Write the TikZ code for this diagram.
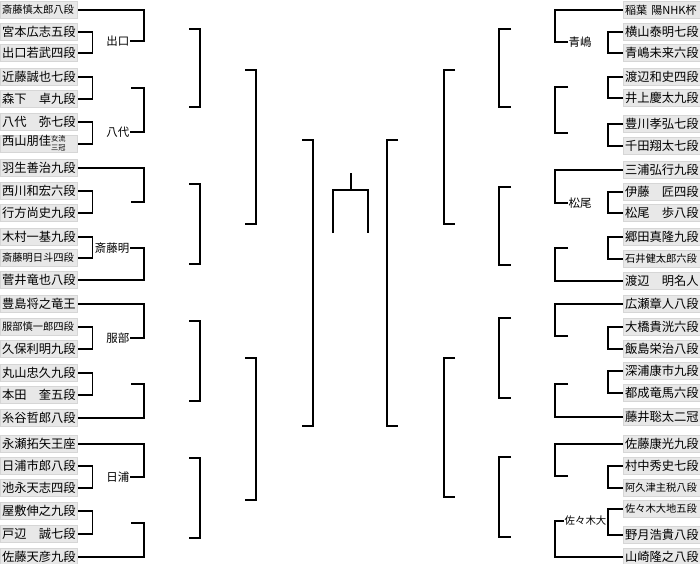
\documentclass[tikz,border=0pt]{standalone}
\usepackage{fontspec}
\setmainfont{Noto Sans CJK JP}
\newcommand{\sm}[1]{{\fontsize{7.7pt}{8pt}\selectfont #1}}
\newcommand{\joryu}{\raisebox{-0.3pt}{\fontsize{5.4pt}{5.4pt}\selectfont\begin{tabular}{@{}c@{}}女流\\[0.8pt]三冠\end{tabular}}}
\tikzset{
  namebox/.style={draw=black!16, fill=black!9, minimum height=12.6pt, text width=55.5pt,
    inner xsep=1.1pt, inner ysep=0pt, align=left, anchor=west, font=\fontsize{9.2pt}{10pt}\selectfont},
  tag/.style={inner sep=0pt, font=\fontsize{8.6pt}{9pt}\selectfont},
  bracket/.style={line width=1pt},
}
\begin{document}
\begin{tikzpicture}[x=0.75pt, y=-0.75pt, bracket]
            \useasboundingbox (0,0) rectangle (700,564);
            % Names, left block
            \foreach \i/\y/\n in {1/10/\sm{斎藤慎太郎八段}, 2/32/宮本広志五段, 3/53/出口若武四段,
                    4/77/近藤誠也七段, 5/99/森下　卓九段, 6/122/八代　弥七段, 7/144/西山朋佳\joryu,
                    8/168/羽生善治九段, 9/191/西川和宏六段, 10/213/行方尚史九段, 11/237/木村一基九段,
                    12/258/\sm{斎藤明日斗四段}, 13/280/菅井竜也八段, 14/304/豊島将之竜王,
                    15/327/\sm{服部慎一郎四段}, 16/349/久保利明九段, 17/373/丸山忠久九段,
                    18/395/本田　奎五段, 19/418/糸谷哲郎八段, 20/444/永瀬拓矢王座, 21/466/日浦市郎八段,
                    22/488/池永天志四段, 23/511/屋敷伸之九段, 24/534/戸辺　誠七段, 25/557/佐藤天彦九段} {
                    \node[namebox] (L\i) at (0,\y) {\n};
                }
            % Names, right block
            \foreach \i/\y/\n in {1/10/{\fontsize{8.3pt}{9pt}\selectfont 稲葉~陽NHK杯}, 2/32/横山泰明七段, 3/53/青嶋未来六段,
                    4/77/渡辺和史四段, 5/98/井上慶太九段, 6/124/豊川孝弘七段, 7/146/千田翔太七段,
                    8/170/三浦弘行九段, 9/192/伊藤　匠四段, 10/213/松尾　歩八段, 11/237/郷田真隆九段,
                    12/259/\sm{石井健太郎六段}, 13/281/渡辺　明名人, 14/304/広瀬章人八段,
                    15/327/大橋貴洸六段, 16/349/飯島栄治八段, 17/371/深浦康市九段, 18/393/都成竜馬六段,
                    19/417/藤井聡太二冠, 20/444/佐藤康光九段, 21/466/村中秀史七段,
                    22/488/\sm{阿久津主税八段}, 23/509/\sm{佐々木大地五段}, 24/535/野月浩貴八段,
                    25/557/山崎隆之八段} {
                    \node[namebox] (R\i) at (623,\y) {\n};
                }
            % First round pairs
            \foreach \a/\b in {2/3, 4/5, 6/7, 9/10, 11/12, 15/16, 17/18, 21/22, 23/24} {
                    \draw (L\a.east) -- ++(14,0) |- (L\b.east);
                    \draw (R\a.west) -- ++(-15,0) |- (R\b.west);
                }
            % Winners so far
            \node[tag, anchor=east] (deguchi) at (130,41) {出口};
            \node[tag, anchor=east] (yashiro) at (130,132) {八代};
            \node[tag, anchor=east] (saitoA) at (130,248) {斎藤明};
            \node[tag, anchor=east] (hattori) at (130,338) {服部};
            \node[tag, anchor=east] (hiura) at (130,477) {日浦};
            \node[tag, anchor=west] (aoshima) at (568,42) {青嶋};
            \node[tag, anchor=west] (matsuo) at (568,203) {松尾};
            \node[tag, anchor=east, font=\fontsize{7.8pt}{8pt}\selectfont] (sasaki) at (607,521) {佐々木大};
            % Open ends
            \coordinate (sB) at (131,88);
            \coordinate (sC) at (131,202);
            \coordinate (sD) at (131,384);
            \coordinate (sE) at (131,523);
            \coordinate (tB) at (568,87);
            \coordinate (tB2) at (568,133);
            \coordinate (tC) at (568,248);
            \coordinate (tD) at (568,336);
            \coordinate (tD2) at (568,384);
            \coordinate (tE) at (568,476);
            \coordinate (gF) at (555,521);
            % Second round, left
            \draw (deguchi.east) -- ++(14,0) |- (L1.east);
            \draw (yashiro.east) -- ++(14,0) |- (sB);
            \draw (sC) -- ++(13,0) |- (L8.east);
            \draw (saitoA.east) -- ++(14,0) |- (L13.east);
            \draw (hattori.east) -- ++(14,0) |- (L14.east);
            \draw (sD) -- ++(13,0) |- (L19.east);
            \draw (hiura.east) -- ++(14,0) |- (L20.east);
            \draw (sE) -- ++(13,0) |- (L25.east);
            % Second round, right
            \draw (aoshima.west) -- ++(-13,0) |- (R1.west);
            \draw (tB) -- ++(-13,0) |- (tB2);
            \draw (matsuo.west) -- ++(-13,0) |- (R8.west);
            \draw (tC) -- ++(-13,0) |- (R13.west);
            \draw (tD) -- ++(-13,0) |- (R14.west);
            \draw (tD2) -- ++(-13,0) |- (R19.west);
            \draw (tE) -- ++(-13,0) |- (R20.west);
            \draw (sasaki.west) -- (gF) |- (R25.west);
            % Later rounds
            \foreach \xa/\xb/\ya/\yb in {189/200/29/107, 189/200/184/264, 189/200/321/401, 189/200/458/538,
                    245/256/70/224, 245/256/358/500, 302/313/140/426, 398/387/140/426,
                    455/444/70/224, 455/444/358/497, 511/499/29/107, 511/499/187/265,
                    511/499/318/398, 511/499/457/537} {
                    \draw (\xa,\ya) -| (\xb,\yb) -- (\xa,\yb);
                }
            % Final
            \draw (351,173) -- (351,190);
            \draw (333,233) |- (368,190) -- (368,233);
        \end{tikzpicture}
\end{document}
